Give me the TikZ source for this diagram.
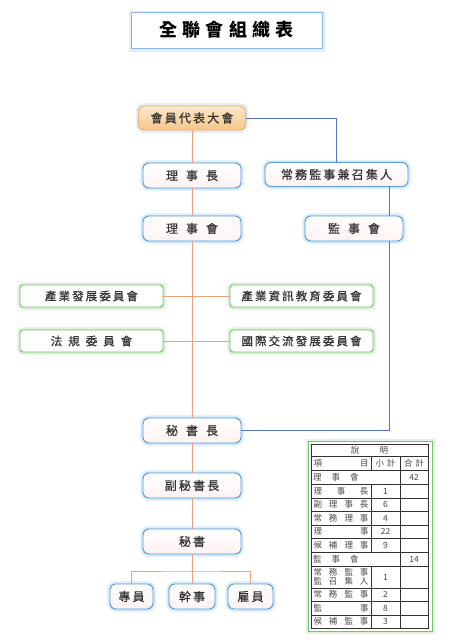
\documentclass[tikz,border=0pt]{standalone}
\usepackage{fontspec}
\setmainfont{Noto Sans CJK TC}
\newfontfamily\boxfont[LetterSpace=18, FakeBold=0.7]{Noto Sans CJK TC}
\newfontfamily\titlefont[LetterSpace=28]{Noto Sans CJK TC}
\definecolor{boxblue}{HTML}{5E9AD6}
\definecolor{glowblue}{HTML}{BDE3F7}
\definecolor{lineorange}{HTML}{EFA17C}
\definecolor{lineblue}{HTML}{5572C4}
\definecolor{boxgreen}{HTML}{78C078}
\definecolor{glowgreen}{HTML}{CDEBC5}
\definecolor{peachtop}{HTML}{FCE8CB}
\definecolor{peachbot}{HTML}{F5C68A}
\definecolor{peachline}{HTML}{E9B574}
\definecolor{textgray}{HTML}{333333}
\definecolor{cellgray}{HTML}{4A4A4A}
\newcommand{\wgap}{\hspace{8pt}}
\newcommand{\spreadtxt}[1]{\makebox[55pt][s]{#1}}
\tikzset{
  unitbox/.style={draw=boxblue, line width=.9pt, rounded corners=6pt,
    top color=white, bottom color=red!5, minimum width=98pt, minimum height=25pt,
    inner sep=0pt, text=textgray, font=\boxfont\fontsize{12}{14}\selectfont,
    preaction={draw=glowblue, line width=6pt, opacity=.4},
    preaction={draw=glowblue, line width=3pt, opacity=.7}},
  topbox/.style={unitbox, draw=peachline, top color=peachtop, bottom color=peachbot,
    preaction={draw=peachtop, line width=3pt, opacity=.6}},
  commbox/.style={draw=boxgreen, line width=.9pt, rounded corners=3pt, fill=white,
    minimum width=143pt, minimum height=22pt, inner sep=0pt, text=textgray,
    font=\boxfont\fontsize{11.5}{13}\selectfont,
    preaction={draw=glowgreen, line width=6pt, opacity=.45},
    preaction={draw=glowgreen, line width=3pt, opacity=.8}},
  orgline/.style={draw=lineorange, line width=.9pt},
  supline/.style={draw=lineblue, line width=1pt},
  tableline/.style={draw=black!80, line width=.8pt},
  celltext/.style={inner sep=0pt, text=cellgray, font=\fontsize{8.5}{9.5}\selectfont}
}
\begin{document}
\begin{tikzpicture}[x=1pt, y=-1pt]
\useasboundingbox (0,0) rectangle (452,640);
\fill[white] (0,0) rectangle (452,640);

\node[draw=boxblue!70, line width=.8pt, fill=white, minimum width=191pt, minimum height=36pt,
  preaction={draw=glowblue, line width=5pt, opacity=.5, transform canvas={yshift=-1.5pt}},
  font=\titlefont\bfseries\fontsize{18}{20}\selectfont] (title) at (226.5,30) {全聯會組織表};

\node[topbox, minimum width=107pt, minimum height=24pt] (dahui) at (192,118) {會員代表大會};
\node[unitbox] (lsz) at (192,175.5) {理\wgap 事\wgap 長};
\node[unitbox, minimum width=143pt, minimum height=24pt] (cwjs) at (336.5,174.5) {常務監事兼召集人};
\node[unitbox] (lsh) at (192,228.5) {理\wgap 事\wgap 會};
\node[unitbox] (jsh) at (354,228.5) {監\wgap 事\wgap 會};

\node[commbox] (cyfz) at (91.5,296) {產業發展委員會};
\node[commbox] (zxjy) at (301.5,296) {產業資訊教育委員會};
\node[commbox] (fg) at (91.5,341) {法\hspace{6pt}規\hspace{6pt}委\hspace{6pt}員\hspace{6pt}會};
\node[commbox] (gjjl) at (301.5,341) {國際交流發展委員會};

\node[unitbox] (msz) at (192,430.5) {秘\wgap 書\wgap 長};
\node[unitbox] (fmsz) at (192,485.5) {副秘書長};
\node[unitbox] (ms) at (192,541.5) {秘書};
\node[unitbox, minimum width=43pt] (zy) at (131.5,596.5) {專員};
\node[unitbox, minimum width=46pt] (gs) at (192,596.5) {幹事};
\node[unitbox, minimum width=45pt] (gy) at (250.5,596.5) {雇員};

\coordinate (bus) at (192,571);
\coordinate (bx) at (389,0);

\draw[orgline] (dahui) -- (lsz);
\draw[orgline] (lsz) -- (lsh);
\draw[orgline] (lsh) -- (msz);
\draw[orgline] (msz) -- (fmsz);
\draw[orgline] (fmsz) -- (ms);
\draw[orgline] (ms) -- (gs);
\draw[orgline] (zy) |- (bus) -| (gy);
\draw[orgline] (cyfz) -- (zxjy);
\draw[orgline] (fg) -- (gjjl);

\draw[supline] (dahui) -| (cwjs);
\draw[supline] (cwjs.south -| bx) -- (jsh.north -| bx);
\draw[supline] (jsh.south -| bx) |- (msz);

% legend table
\draw[draw=boxgreen, line width=.9pt, fill=white,
  preaction={draw=glowgreen, line width=5pt, opacity=.6}] (308,441) rectangle (432,631);
\draw[tableline] (311,444) rectangle (428,628);
\foreach \y in {456,470,484,498,511,525,538.5,552,566,588,601.5,615}
  \draw[tableline] (311,\y) -- (428,\y);
\draw[tableline] (400,456) -- (400,628);
\draw[tableline] (371,456) -- (371,470) (371,484) -- (371,552) (371,566) -- (371,628);

\node[celltext] (shuoming) at (369.5,450) {說\hspace{2.4em}明};
\node[celltext] (xiangmu) at (341,463) {\spreadtxt{項\hfill 目}};
\node[celltext] (xiaoji) at (385.5,463) {小\hspace{3pt}計};
\node[celltext] (heji) at (414,463) {合\hspace{3pt}計};
\node[celltext, anchor=west] (lshrow) at (313,477) {理\hspace{10pt}事\hspace{10pt}會};
\node[celltext] (lshsum) at (414,477) {42};
\node[celltext, anchor=west] (jshrow) at (313,559) {監\hspace{10pt}事\hspace{10pt}會};
\node[celltext] (jshsum) at (414,559) {14};
\foreach \yy/\name/\num in {491/{理\hfill 事\hfill 長}/1, 504.5/{副\hfill 理\hfill 事\hfill 長}/6,
    518/{常\hfill 務\hfill 理\hfill 事}/4, 531.75/{理\hfill 事}/22, 545.25/{候\hfill 補\hfill 理\hfill 事}/9,
    594.75/{常\hfill 務\hfill 監\hfill 事}/2, 608.25/{監\hfill 事}/8, 621.5/{候\hfill 補\hfill 監\hfill 事}/3}
{
  \node[celltext] at (341,\yy) {\spreadtxt{\name}};
  \node[celltext] at (385.5,\yy) {\num};
}
\node[celltext, align=center] (cwrow) at (341,577)
  {\spreadtxt{常\hfill 務\hfill 監\hfill 事}\\\spreadtxt{監\hfill 召\hfill 集\hfill 人}};
\node[celltext] (cwnum) at (385.5,577) {1};
\end{tikzpicture}
\end{document}
